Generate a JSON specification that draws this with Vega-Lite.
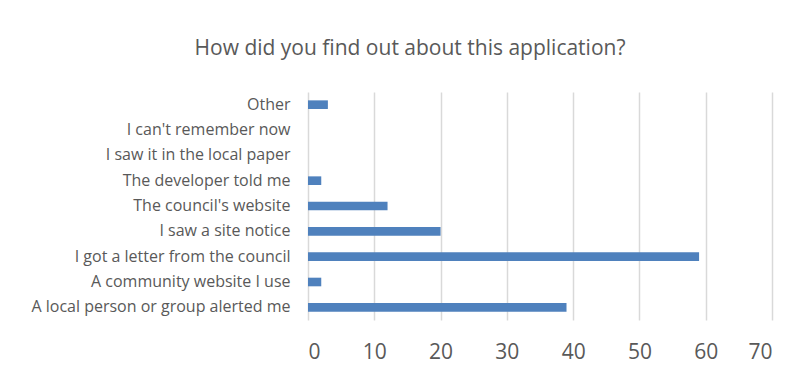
{
  "$schema": "https://vega.github.io/schema/vega-lite/v6.json",
  "autosize": "none",
  "width": 464,
  "height": 228,
  "padding": {"left": 308, "top": 92, "right": 34, "bottom": 56},
  "background": "white",
  "title": {
    "text": "How did you find out about this application?",
    "fontSize": 21,
    "font": "Open Sans",
    "fontWeight": "normal",
    "color": "#595959",
    "anchor": "middle",
    "dx": -130,
    "offset": 33
  },
  "data": {
    "values": [
      {"source": "Other", "count": 3},
      {"source": "I can't remember now", "count": 0},
      {"source": "I saw it in the local paper", "count": 0},
      {"source": "The developer told me", "count": 2},
      {"source": "The council's website", "count": 12},
      {"source": "I saw a site notice", "count": 20},
      {"source": "I got a letter from the council", "count": 59},
      {"source": "A community website I use", "count": 2},
      {"source": "A local person or group alerted me", "count": 39}
    ]
  },
  "mark": {"type": "bar", "color": "#4f81bd"},
  "encoding": {
    "y": {
      "field": "source",
      "type": "nominal",
      "sort": null,
      "scale": {"paddingInner": 0.66, "paddingOuter": 0.33},
      "axis": {
        "title": null,
        "domain": false,
        "ticks": false,
        "labelPadding": 18,
        "labelFontSize": 16,
        "labelFont": "Open Sans",
        "labelColor": "#595959",
        "labelLimit": 400
      }
    },
    "x": {
      "field": "count",
      "type": "quantitative",
      "scale": {"domain": [0, 70], "nice": false},
      "axis": {
        "title": null,
        "values": [0, 10, 20, 30, 40, 50, 60, 70],
        "domain": false,
        "ticks": false,
        "grid": true,
        "gridColor": "#d9d9d9",
        "gridWidth": 1.5,
        "labelPadding": 21,
        "labelFontSize": 21,
        "labelFont": "Open Sans",
        "labelColor": "#595959",
        "labelBaseline": "top"
      }
    }
  },
  "config": {
    "view": {"stroke": null}
  }
}
